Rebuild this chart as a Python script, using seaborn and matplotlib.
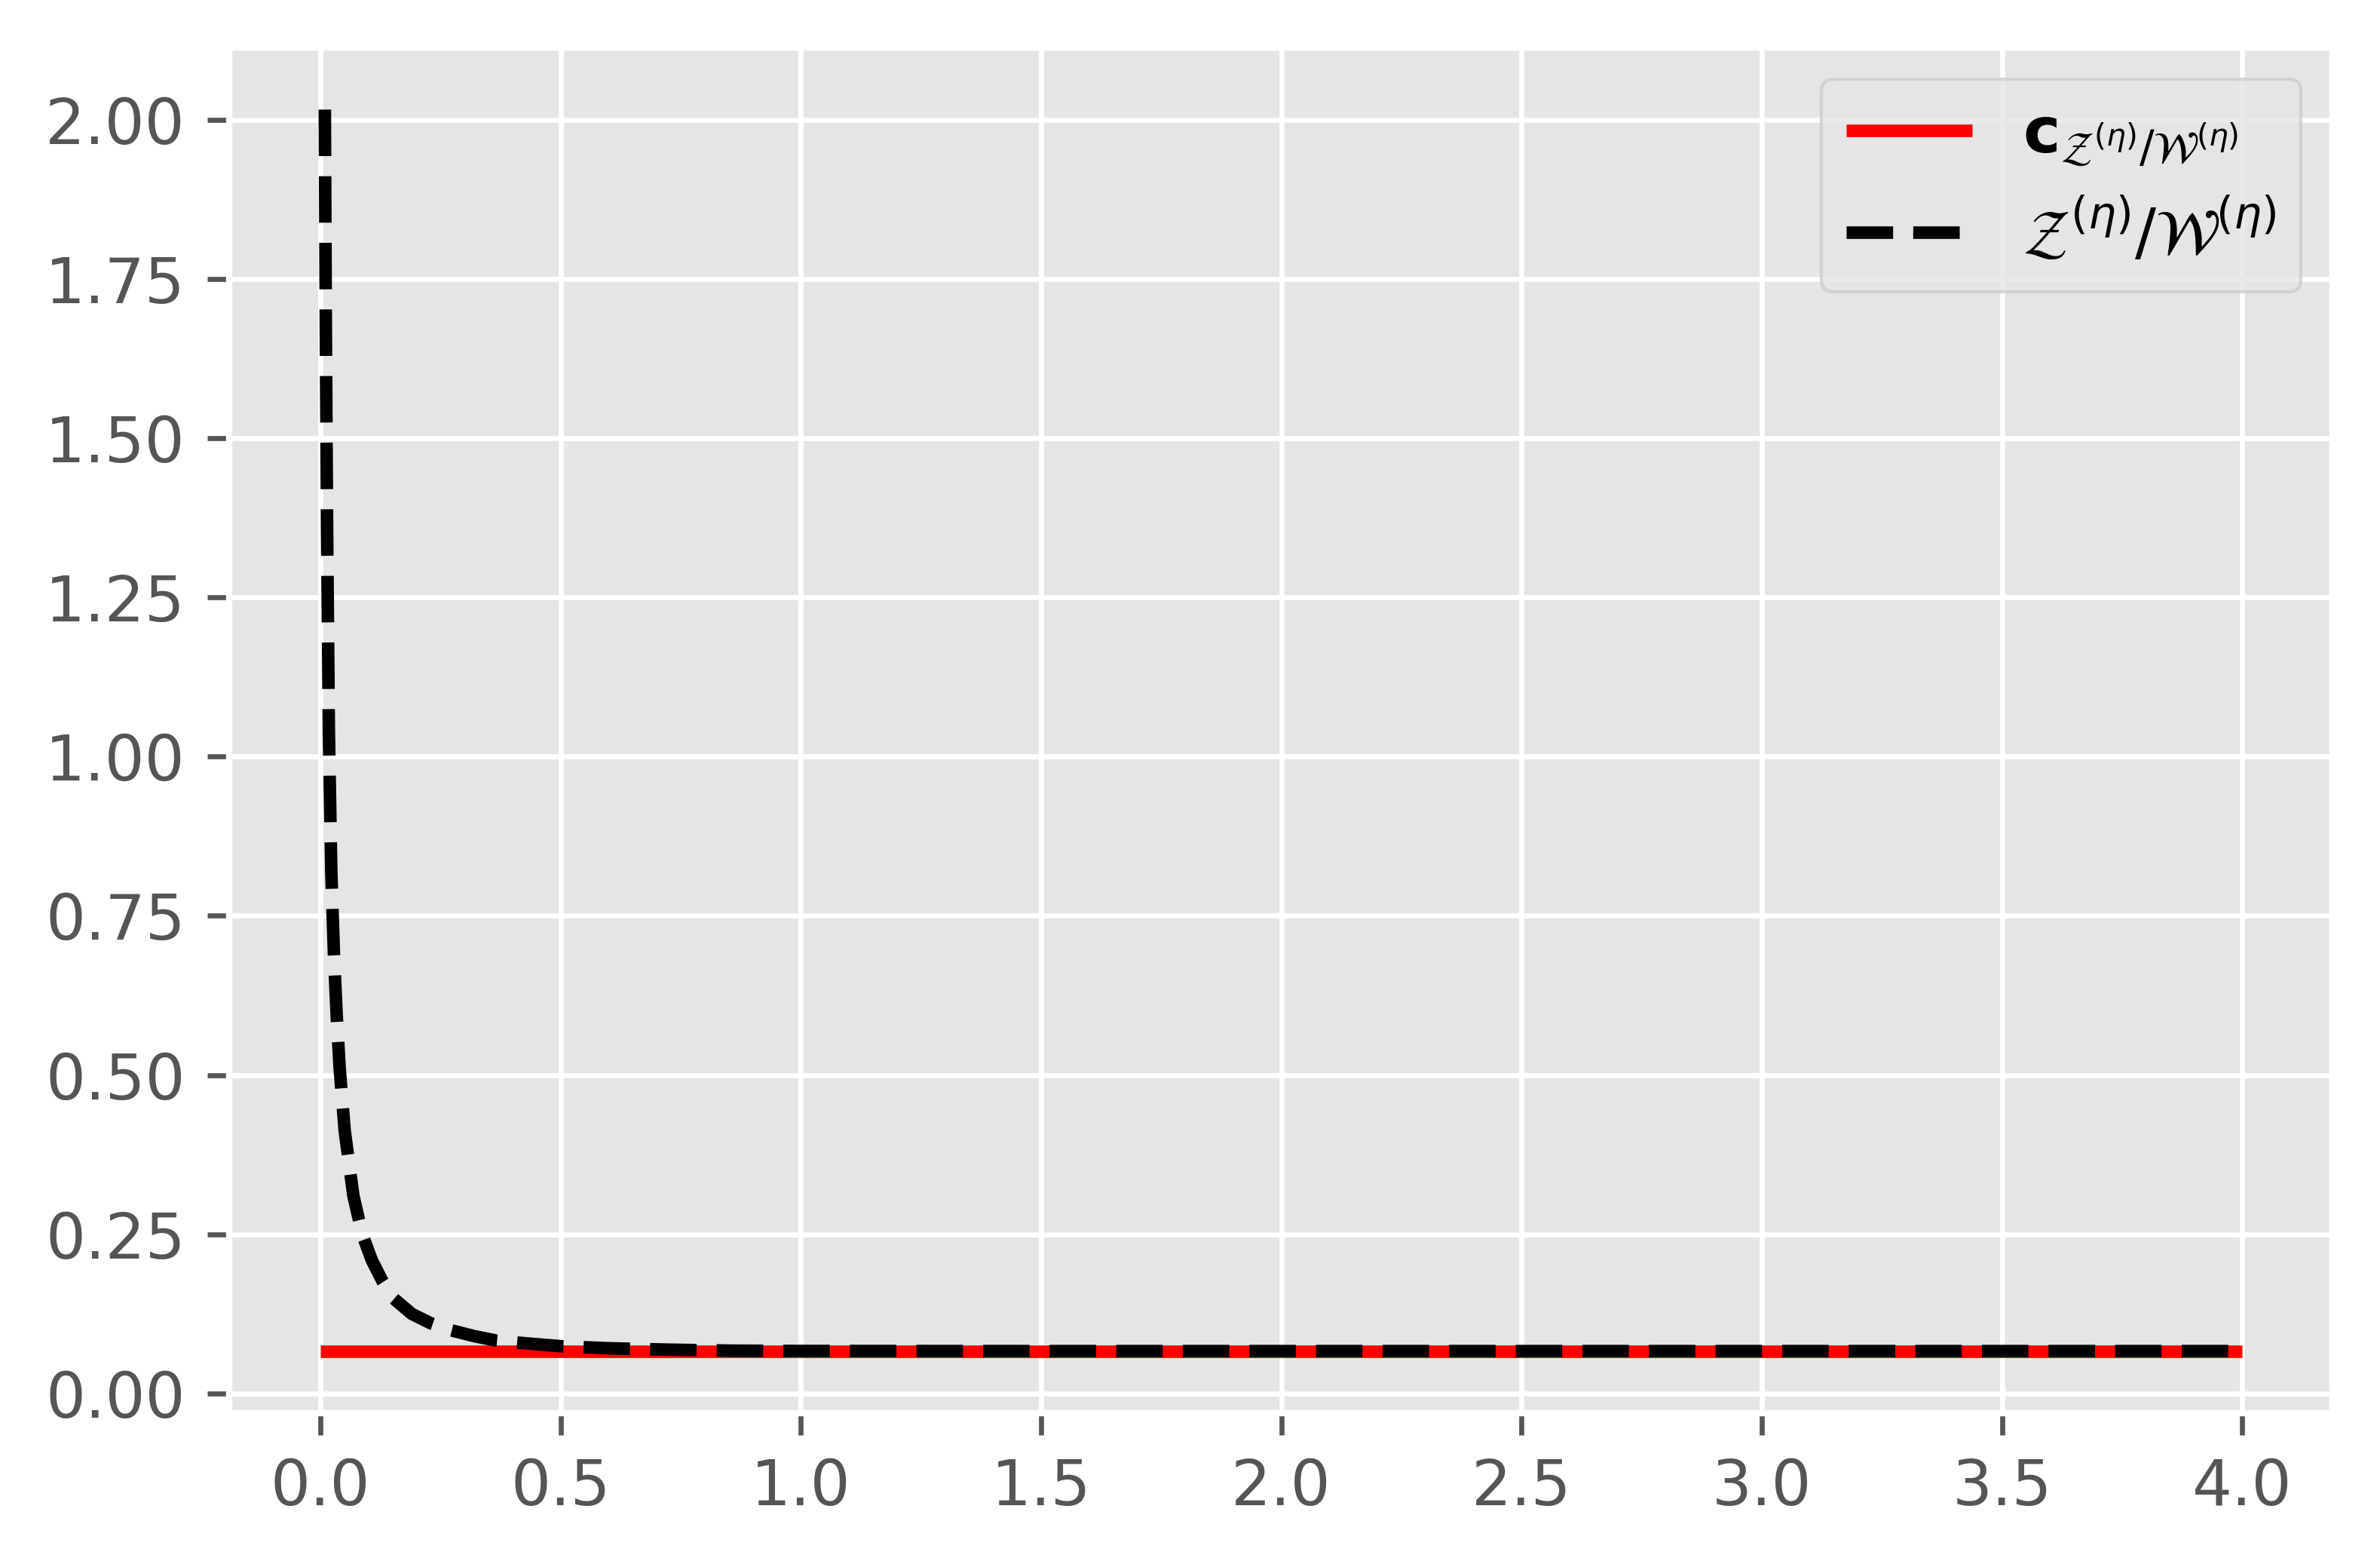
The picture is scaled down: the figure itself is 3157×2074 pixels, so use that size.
import matplotlib
matplotlib.use("Agg")
import matplotlib.pyplot as plt
import seaborn as sns

# ratio curve
ratio_x = [0.0091, 0.0112, 0.0138, 0.0175, 0.0225, 0.028, 0.034, 0.040, 0.0505,
           0.0686, 0.087, 0.107, 0.13, 0.1525, 0.19, 0.23, 0.273, 0.32, 0.366,
           0.408, 0.455, 0.504, 0.60, 0.73, 0.86, 1.0, 1.5, 2.0, 2.5, 3.0, 3.5, 4.0]
ratio_y = [2.016, 1.668, 1.355, 1.039, 0.82, 0.69, 0.59, 0.51, 0.412,
           0.310, 0.25, 0.209, 0.175, 0.149, 0.125, 0.110, 0.099, 0.090, 0.083,
           0.080, 0.077, 0.074, 0.071, 0.0687, 0.0672, 0.0667, 0.0665, 0.0665,
           0.0665, 0.0665, 0.0665, 0.0665]

# constant level
const_value = 0.0665
const_start = 0.0
const_end = 4.0

xticks = [0.0, 0.5, 1.0, 1.5, 2.0, 2.5, 3.0, 3.5, 4.0]
yticks = [0.0, 0.25, 0.5, 0.75, 1.0, 1.25, 1.5, 1.75, 2.0]

const_label = r'$\mathbf{c}_{\mathcal{Z}^{(\eta)}/\mathcal{W}^{(\eta)}}$'
ratio_label = r'$\mathcal{Z}^{(\eta)}/\mathcal{W}^{(\eta)}$'

plt.style.use('ggplot')

fig = plt.figure(figsize=(3157 / 600, 2074 / 600), dpi=600)
ax = fig.add_axes([0.0963, 0.09643, 0.98005 - 0.0963, 0.96962 - 0.09643])

ax.hlines(const_value, const_start, const_end, colors='red', linewidth=2, label=const_label)
sns.lineplot(x=ratio_x, y=ratio_y, ax=ax, color='black', linestyle='--', linewidth=2,
             label=ratio_label)

ax.set_xticks(xticks)
ax.set_yticks(yticks)
ax.set_xlim(-0.19, 4.188)
ax.legend(loc='upper right')

fig.savefig('out.png', dpi=600)
plt.close()
